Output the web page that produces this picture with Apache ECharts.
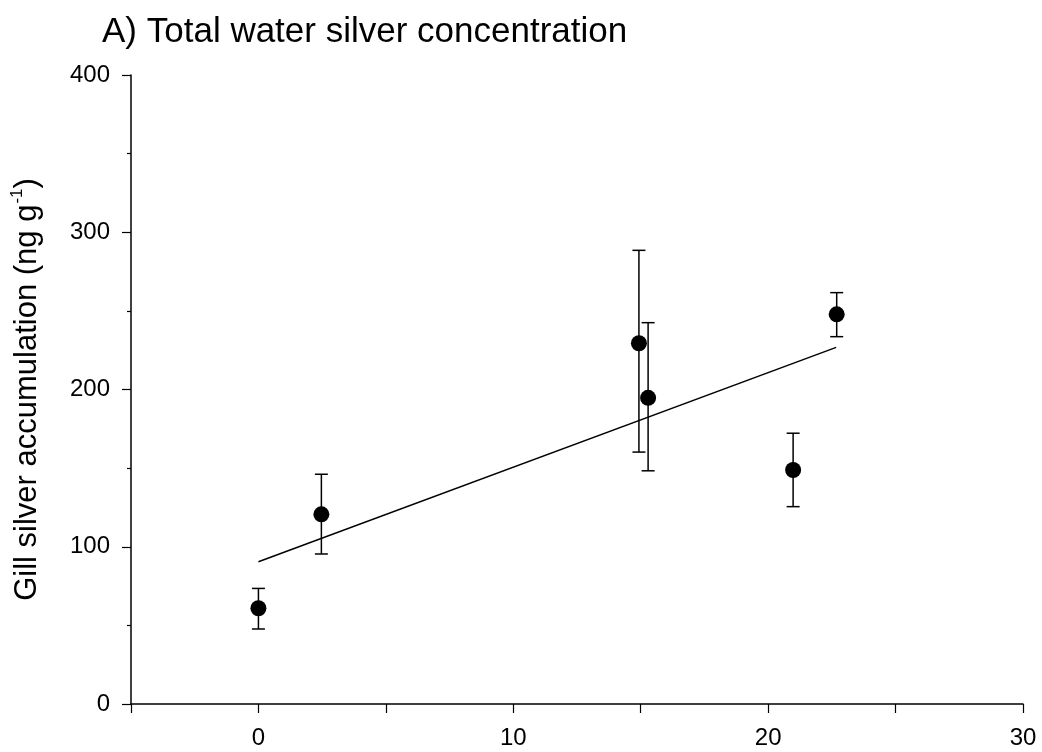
<!DOCTYPE html>
<html>
<head>
<meta charset="utf-8">
<script src="https://cdn.jsdelivr.net/npm/echarts@6/dist/echarts.min.js"></script>
<style>
html,body{margin:0;padding:0;background:#fff;}
#chart{width:1042px;height:752px;}
</style>
</head>
<body>
<div id="chart"></div>
<script>
// Data
const waterAg = [0, 2.47, 14.93, 15.29, 20.98, 22.69];       // x: total water silver
const gillAg = [60.9, 120.6, 229.4, 194.7, 148.8, 247.8];     // mean gill accumulation
const errLow = [47.7, 95.4, 160.2, 148.3, 125.5, 233.6];      // lower error bar
const errHigh = [73.5, 146.1, 288.5, 242.5, 172.2, 261.6];    // upper error bar
const fitX = [0, 22.67];                                      // regression line ends
const fitY = [90.5, 226.8];
const xTickLabels = [0, 10, 20, 30];
const yTickLabels = [0, 100, 200, 300, 400];

const FONT = 'Liberation Sans, Arial, sans-serif';
const chart = echarts.init(document.getElementById('chart'));

chart.setOption({
  animation: false,
  backgroundColor: '#fff',
  title: {
    text: 'A) Total water silver concentration',
    left: 97,
    top: 10,
    textStyle: { fontFamily: FONT, fontSize: 35, fontWeight: 'normal', color: '#000' }
  },
  grid: { left: 131, right: 19, top: 75, bottom: 48 },
  xAxis: {
    type: 'value',
    min: -5, max: 30, interval: 5,
    axisLine: { show: true, onZero: false, lineStyle: { color: '#000', width: 1.5 } },
    axisTick: { show: true, length: 9, lineStyle: { color: '#000', width: 1.2 } },
    axisLabel: {
      margin: 22, fontFamily: FONT, fontSize: 24, color: '#000',
      formatter: v => xTickLabels.indexOf(v) >= 0 ? String(v) : ''
    },
    splitLine: { show: false }
  },
  yAxis: {
    type: 'value',
    min: 0, max: 400, interval: 100,
    axisLine: { show: true, onZero: false, lineStyle: { color: '#000', width: 1.5 } },
    axisTick: { show: true, length: 9, lineStyle: { color: '#000', width: 1.2 } },
    minorTick: { show: true, splitNumber: 2, length: 4, lineStyle: { color: '#000', width: 1.2 } },
    axisLabel: {
      margin: 21, fontFamily: FONT, fontSize: 24, color: '#000',
      formatter: v => yTickLabels.indexOf(v) >= 0 ? String(v) : ''
    },
    splitLine: { show: false },
    name: '{a|Gill silver accumulation (ng g}{s|-1}{a|)}',
    nameLocation: 'middle',
    nameGap: 86,
    nameTextStyle: {
      rich: {
        a: { fontFamily: FONT, fontSize: 31, color: '#000', lineHeight: 36 },
        s: { fontFamily: FONT, fontSize: 17, color: '#000', verticalAlign: 'top', padding: [0, 0, 0, 1] }
      }
    }
  },
  series: [
    {
      type: 'custom',
      z: 2,
      data: waterAg.map((x, i) => [x, errLow[i], errHigh[i]]),
      encode: { x: 0, y: [1, 2] },
      renderItem: function (params, api) {
        const x = api.value(0);
        const lo = api.coord([x, api.value(1)]);
        const hi = api.coord([x, api.value(2)]);
        const w = 6.5;
        const st = { stroke: '#000', lineWidth: 1.5 };
        return {
          type: 'group',
          children: [
            { type: 'line', shape: { x1: hi[0], y1: hi[1], x2: lo[0], y2: lo[1] }, style: st },
            { type: 'line', shape: { x1: hi[0] - w, y1: hi[1], x2: hi[0] + w, y2: hi[1] }, style: st },
            { type: 'line', shape: { x1: lo[0] - w, y1: lo[1], x2: lo[0] + w, y2: lo[1] }, style: st }
          ]
        };
      }
    },
    {
      type: 'line',
      z: 3,
      data: fitX.map((x, i) => [x, fitY[i]]),
      showSymbol: false,
      symbol: 'none',
      lineStyle: { color: '#000', width: 1.5 }
    },
    {
      type: 'scatter',
      z: 4,
      data: waterAg.map((x, i) => [x, gillAg[i]]),
      symbol: 'circle',
      symbolSize: 16,
      itemStyle: { color: '#000', opacity: 1 }
    }
  ]
});
</script>
</body>
</html>
